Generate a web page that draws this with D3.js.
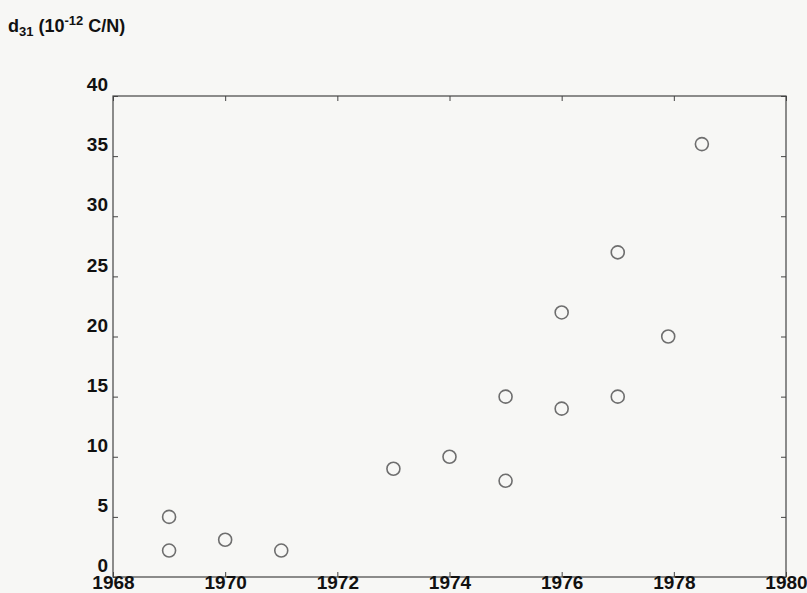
<!DOCTYPE html>
<html>
<head>
<meta charset="utf-8">
<script src="https://cdn.jsdelivr.net/npm/d3@7"></script>
<style>
  body { margin: 0; background: #f7f7f5; }
  svg { display: block; }
</style>
</head>
<body>
<div id="chart"></div>
<script>
// values
const years  = [1969, 1969, 1970, 1971, 1973, 1974, 1975, 1975, 1976, 1976, 1977, 1977, 1977.9, 1978.5];
const d31    = [5,    2.2,  3.1,  2.2,  9,    10,   15,   8,    22,   14,   27,   15,   20,     36];
const xTicks = [1968, 1970, 1972, 1974, 1976, 1978, 1980];
const yTicks = [0, 5, 10, 15, 20, 25, 30, 35, 40];

const width = 807, height = 593;
const margin = {top: 96, right: 20, bottom: 16, left: 113};

const svg = d3.select("#chart").append("svg")
    .attr("width", width)
    .attr("height", height)
    .attr("font-family", "'Liberation Sans', Arial, sans-serif");

const x = d3.scaleLinear().domain([1968, 1980]).range([margin.left, width - margin.right - 1]);
const y = d3.scaleLinear().domain([0, 40]).range([height - margin.bottom, margin.top]);

const axisColor = "#444";

// frame
svg.append("rect")
    .attr("x", x(1968)).attr("y", y(40))
    .attr("width", x(1980) - x(1968)).attr("height", y(0) - y(40))
    .attr("fill", "none").attr("stroke", axisColor).attr("stroke-width", 1.2);

function styleAxis(g, labels) {
  g.select(".domain").remove();
  g.selectAll(".tick line").attr("stroke", axisColor);
  if (!labels) g.selectAll(".tick text").remove();
  else g.selectAll(".tick text")
      .attr("fill", "#111")
      .attr("font-size", 19)
      .attr("font-weight", "bold");
}

svg.append("g")
    .attr("transform", `translate(${x(1968)},0)`)
    .call(d3.axisLeft(y).tickValues(yTicks).tickFormat(d3.format("d")).tickSize(-5).tickPadding(5))
    .call(g => styleAxis(g, true))
    .call(g => g.selectAll(".tick text").attr("dy", "-0.28em"));

svg.append("g")
    .attr("transform", `translate(${x(1980)},0)`)
    .call(d3.axisRight(y).tickValues(yTicks).tickSize(-5))
    .call(g => styleAxis(g, false));

svg.append("g")
    .attr("transform", `translate(0,${y(0)})`)
    .call(d3.axisBottom(x).tickValues(xTicks).tickFormat(d3.format("d")).tickSize(-5).tickPadding(-1))
    .call(g => styleAxis(g, true))
    .call(g => g.selectAll(".tick text").attr("dy", "0.68em"));

svg.append("g")
    .attr("transform", `translate(0,${y(40)})`)
    .call(d3.axisTop(x).tickValues(xTicks).tickSize(-5))
    .call(g => styleAxis(g, false));

// axis title
const title = svg.append("text")
    .attr("x", 8).attr("y", 32)
    .attr("font-size", 18).attr("font-weight", "bold").attr("fill", "#111");
title.append("tspan").text("d");
title.append("tspan").attr("font-size", 13).attr("dy", 4).text("31");
title.append("tspan").attr("dy", -4).text(" (10");
title.append("tspan").attr("font-size", 13).attr("dy", -7).text("-12");
title.append("tspan").attr("dy", 7).text(" C/N)");

// data points
svg.append("g")
  .selectAll("circle")
  .data(years.map((yr, i) => [yr, d31[i]]))
  .join("circle")
    .attr("cx", d => x(d[0]))
    .attr("cy", d => y(d[1]))
    .attr("r", 6.5)
    .attr("fill", "none")
    .attr("stroke", "#6e6e6e")
    .attr("stroke-width", 1.6);
</script>
</body>
</html>
